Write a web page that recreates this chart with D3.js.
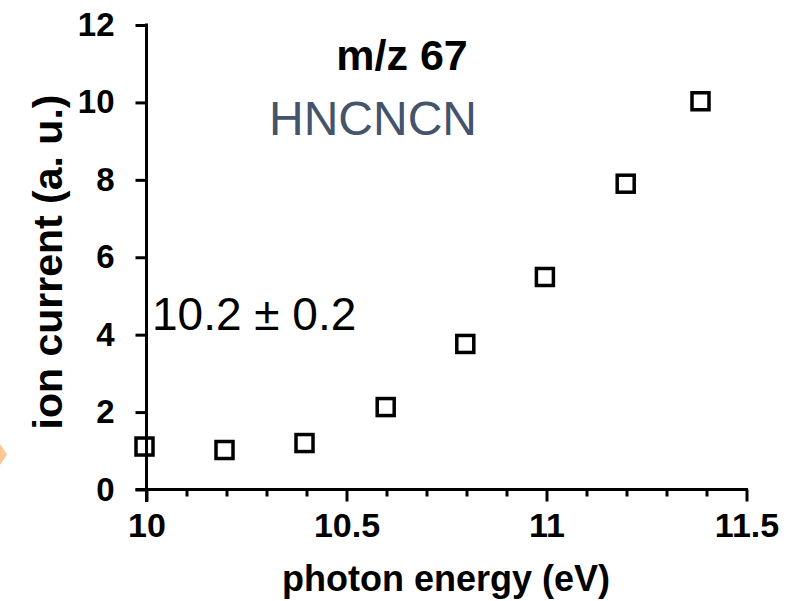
<!DOCTYPE html>
<html><head><meta charset="utf-8">
<script src="https://cdn.jsdelivr.net/npm/d3@7"></script>
<style>body{margin:0;background:#fff}svg{display:block}</style>
</head><body>
<script>
const energies = [9.995, 10.195, 10.395, 10.598, 10.797, 10.996, 11.198, 11.385];
const ionCurrent = [1.11, 1.02, 1.20, 2.13, 3.76, 5.49, 7.90, 10.03];
const xMajorTicks = [10, 10.5, 11, 11.5];
const xMinorTicks = [10.1, 10.2, 10.3, 10.4, 10.6, 10.7, 10.8, 10.9, 11.1, 11.2, 11.3, 11.4];
const yTicks = [0, 2, 4, 6, 8, 10, 12];
const titleText = "m/z 67";
const speciesText = "HNCNCN";
const ieText = "10.2 ± 0.2";
const xLabel = "photon energy (eV)";
const yLabel = "ion current (a. u.)";

const W = 795, H = 601;
const svg = d3.select("body").append("svg").attr("width", W).attr("height", H);
const font = "'Liberation Sans', Arial, Helvetica, sans-serif";

const x = d3.scaleLinear().domain([10, 11.5]).range([146.5, 746.5]);
const y = d3.scaleLinear().domain([0, 12]).range([489.5, 25]);

// decoration on left edge
svg.append("polygon").attr("points", "0,444 7,454.5 0,465").attr("fill", "#FDC793");

// y axis
const yAxis = svg.append("g").attr("transform", `translate(${x(10)},0)`)
  .call(d3.axisLeft(y).tickValues(yTicks).tickSize(11).tickPadding(21).tickFormat(d3.format("d")));
yAxis.select(".domain").remove();
yAxis.append("line").attr("x1", 0).attr("x2", 0).attr("y1", y(12) - 1.5).attr("y2", 502)
  .attr("stroke", "#000").attr("stroke-width", 3);
yAxis.selectAll(".tick line").attr("stroke", "#000").attr("stroke-width", 3);
yAxis.selectAll(".tick text").attr("font-family", font).attr("font-weight", "bold")
  .attr("font-size", 33).attr("fill", "#000");

// x axis major
const xAxis = svg.append("g").attr("transform", `translate(0,${y(0)})`)
  .call(d3.axisBottom(x).tickValues(xMajorTicks).tickSize(12).tickPadding(11).tickFormat(d => String(d)));
xAxis.select(".domain").remove();
xAxis.append("line").attr("x1", x(10) - 11).attr("x2", x(11.5) + 1.5).attr("y1", 0).attr("y2", 0)
  .attr("stroke", "#000").attr("stroke-width", 3);
xAxis.selectAll(".tick line").attr("stroke", "#000").attr("stroke-width", 3);
xAxis.selectAll(".tick text").attr("font-family", font).attr("font-weight", "bold")
  .attr("font-size", 34).attr("fill", "#000");

// x axis minor
const xMinor = svg.append("g").attr("transform", `translate(0,${y(0)})`)
  .call(d3.axisBottom(x).tickValues(xMinorTicks).tickSize(7).tickFormat(""));
xMinor.select(".domain").remove();
xMinor.selectAll(".tick line").attr("stroke", "#000").attr("stroke-width", 3);

// data points
const sz = 17;
svg.append("g").selectAll("rect").data(energies).join("rect")
  .attr("x", (d) => x(d) - sz / 2)
  .attr("y", (d, i) => y(ionCurrent[i]) - sz / 2)
  .attr("width", sz).attr("height", sz)
  .attr("fill", "none").attr("stroke", "#000").attr("stroke-width", 3.5);

// axis titles
svg.append("text").attr("x", 446).attr("y", 591).attr("text-anchor", "middle")
  .attr("font-family", font).attr("font-weight", "bold").attr("font-size", 36)
  .attr("fill", "#000").text(xLabel);
svg.append("text").attr("transform", "translate(62,262) rotate(-90)").attr("text-anchor", "middle")
  .attr("font-family", font).attr("font-weight", "bold").attr("font-size", 41)
  .attr("fill", "#000").text(yLabel);

// annotations
svg.append("text").attr("x", 402).attr("y", 70).attr("text-anchor", "middle")
  .attr("font-family", font).attr("font-weight", "bold").attr("font-size", 43)
  .attr("fill", "#000").text(titleText);
svg.append("text").attr("x", 373).attr("y", 135).attr("text-anchor", "middle")
  .attr("font-family", font).attr("font-size", 48)
  .attr("fill", "#44546A").text(speciesText);
svg.append("text").attr("x", 152).attr("y", 330).attr("text-anchor", "start")
  .attr("font-family", font).attr("font-size", 46)
  .attr("fill", "#000").text(ieText);
</script>
</body></html>
